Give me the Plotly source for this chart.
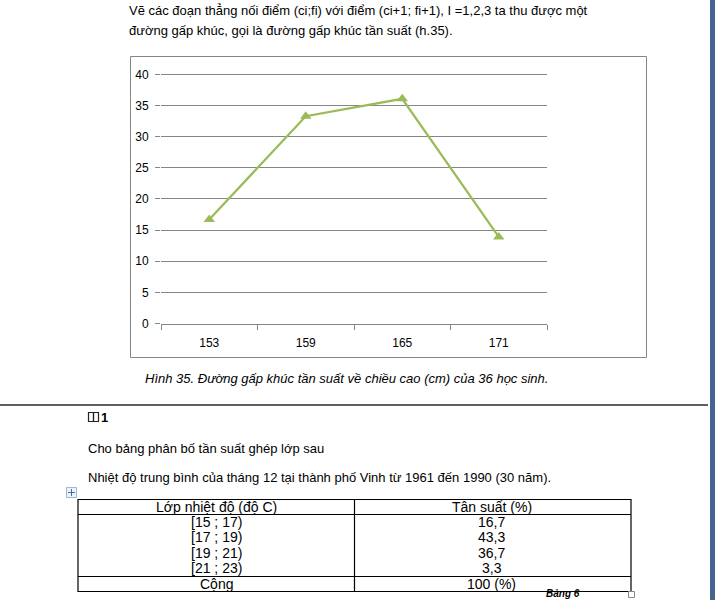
import plotly.graph_objects as go

# ---------------- data ----------------
heights = ["153", "159", "165", "171"]          # class midpoints (cm)
freq_pct = [16.7, 33.3, 36.1, 13.9]             # relative frequency (%)

intro_lines = [
    "Vẽ các đoạn thẳng nối điểm (ci;fi) với điểm (ci+1; fi+1), I =1,2,3 ta thu được một",
    "đường gấp khúc, gọi là đường gấp khúc tần suất (h.35).",
]
caption = "Hình 35. Đường gấp khúc tần suất về chiều cao (cm) của 36 học sinh."
para_lines = [
    "Cho bảng phân bố tần suất ghép lớp sau",
    "Nhiệt độ trung bình của tháng 12 tại thành phố Vinh từ 1961 đến 1990 (30 năm).",
]
table_header = ["Lớp nhiệt độ (độ C)", "Tân suất (%)"]
temp_classes = ["[15 ; 17)", "[17 ; 19)", "[19 ; 21)", "[21 ; 23)"]
temp_freq = ["16,7", "43,3", "36,7", "3,3"]
table_total = ["Cộng", "100 (%)"]
table_label = "Bảng 6"

# ---------------- helpers ----------------
W, H = 715, 600
FONT = "Liberation Sans, Arial, sans-serif"
GRID = "#868686"


def px(x):
    return x / W


def py(y):
    return 1 - y / H


fig = go.Figure()
fig.add_trace(go.Scatter(
    x=heights, y=freq_pct, mode="lines+markers",
    line=dict(color="#9BBB59", width=2.25),
    marker=dict(symbol="triangle-up", size=10, color="#9BBB59"),
    hoverinfo="skip", showlegend=False,
))

shapes = []
annotations = []


def rect(x0, y0, x1, y1, color, width=1, fill=None):
    d = dict(type="rect", xref="paper", yref="paper",
             x0=px(x0), x1=px(x1), y0=py(y0), y1=py(y1),
             line=dict(color=color, width=width), layer="above")
    if fill:
        d["fillcolor"] = fill
    if width == 0:
        d["line"] = dict(width=0)
    shapes.append(d)


def line(x0, y0, x1, y1, color, width=1):
    shapes.append(dict(type="line", xref="paper", yref="paper",
                       x0=px(x0), x1=px(x1), y0=py(y0), y1=py(y1),
                       line=dict(color=color, width=width), layer="above"))


def text(t, x, y, size=13, xanchor="left", yanchor="middle", color="#000000",
         family=FONT, pad=1):
    annotations.append(dict(text=t, x=px(x), y=py(y), xref="paper", yref="paper",
                            xanchor=xanchor, yanchor=yanchor, showarrow=False,
                            borderpad=pad,
                            font=dict(family=family, size=size, color=color)))


# intro text
for i, t in enumerate(intro_lines):
    text(t, 127, 11 + 19 * i)

# chart frame
rect(130.5, 56.5, 646.5, 357.5, GRID, 1)

# caption
text("<i>" + caption + "</i>", 346, 378, size=13, xanchor="center")

# page break line and right bar
line(0, 405, 708, 405, "#5f5f5f", 2)
rect(710, 0, 715, 600, "#46648f", 0, fill="#46648f")

# book icon + "1"
rect(88.5, 412.5, 93.5, 421.5, "#222222", 1.2)
rect(93.5, 412.5, 98.5, 421.5, "#222222", 1.2)
text("<b>1</b>", 98.5, 417.5, size=13)

# paragraphs
text(para_lines[0], 86, 448)
text(para_lines[1], 86, 477)

# table move icon
rect(66.5, 487.5, 76.5, 497.5, "#9fb6d6", 1, fill="#eef3fa")
line(71.5, 489, 71.5, 496, "#3f6fb0", 1)
line(68, 492.5, 75, 492.5, "#3f6fb0", 1)

# table
rect(78, 499.5, 631, 591.5, "#000000", 1.2)
line(78, 514.5, 631, 514.5, "#000000", 1.2)
line(78, 576.5, 631, 576.5, "#000000", 1.2)
line(354.5, 499.5, 354.5, 591.5, "#000000", 1.2)
cx1, cx2 = 216, 492
text(table_header[0], cx1, 507, size=14, xanchor="center")
text(table_header[1], cx2, 507, size=14, xanchor="center")
for i, (c, f) in enumerate(zip(temp_classes, temp_freq)):
    yy = 522 + 15.3 * i
    text(c, cx1, yy, size=14, xanchor="center")
    text(f, cx2, yy, size=14, xanchor="center")
text(table_total[0], cx1, 584, size=14, xanchor="center")
text(table_total[1], cx2, 584, size=14, xanchor="center")
rect(628.5, 591.5, 634.5, 597.5, "#888888", 1, fill="#ffffff")
text("<b><i>" + table_label + "</i></b>", 563, 600, size=10, xanchor="center",
     yanchor="bottom", pad=0)

# y range a little above 40 so that the top gridline (at 40) is drawn
Y_TOP = 40.5
y_bottom_px, y40_px = 323.5, 74.5
y_top_px = y_bottom_px - (y_bottom_px - y40_px) * Y_TOP / 40

fig.update_layout(
    width=W, height=H, margin=dict(l=0, r=0, t=0, b=0, autoexpand=False),
    paper_bgcolor="white", plot_bgcolor="white",
    shapes=shapes, annotations=annotations,
    xaxis=dict(
        domain=[px(161), px(547)], type="category", categoryorder="array",
        categoryarray=heights, range=[-0.5, 3.5], tickson="boundaries",
        ticks="outside", ticklen=5, tickcolor=GRID, tickwidth=1,
        ticklabelstandoff=8,
        showline=True, linecolor=GRID, linewidth=1, showgrid=False,
        zeroline=False, fixedrange=True,
        tickfont=dict(family=FONT, size=12, color="#000000"),
    ),
    yaxis=dict(
        domain=[py(y_bottom_px), py(y_top_px)], range=[0, Y_TOP], dtick=5, tick0=0,
        ticks="outside", ticklen=5, tickcolor=GRID, tickwidth=1,
        ticklabelstandoff=4,
        showgrid=True, gridcolor=GRID, gridwidth=1, showline=False,
        zeroline=False, fixedrange=True,
        tickfont=dict(family=FONT, size=12, color="#000000"),
    ),
)

fig.write_html("out.html")
